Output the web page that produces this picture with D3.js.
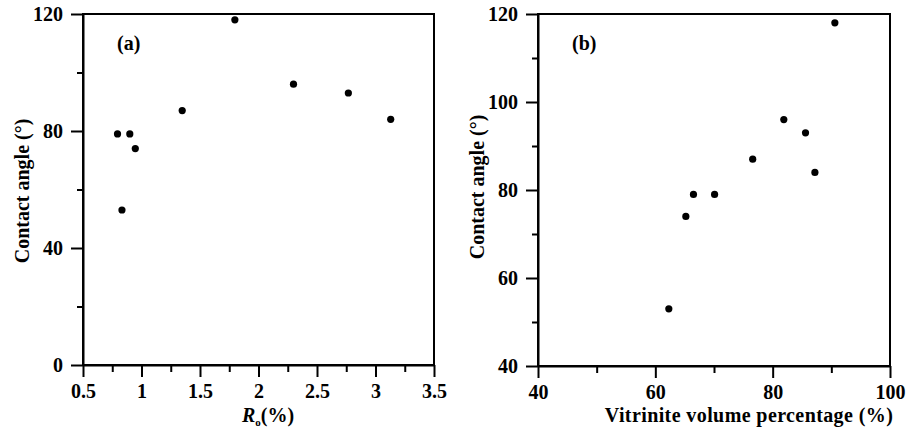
<!DOCTYPE html>
<html>
<head>
<meta charset="utf-8">
<script src="https://cdn.jsdelivr.net/npm/d3@7"></script>
<style>
  body { margin: 0; background: #fff; }
  svg { display: block; }
  text { font-family: "Liberation Serif", "Times New Roman", serif; font-weight: bold; fill: #000; }
</style>
</head>
<body>
<div id="chart"></div>
<script>
const width = 917;
const height = 435;

// panel (a): Ro vs contact angle
const roValues = [0.795, 0.90, 0.947, 0.833, 1.348, 1.798, 2.299, 2.768, 3.13];
const angleA = [79, 79, 74, 53, 87, 118, 96, 93, 84];
const roTicks = [0.5, 1, 1.5, 2, 2.5, 3, 3.5];
const roMinor = [0.75, 1.25, 1.75, 2.25, 2.75, 3.25];
const angleTicksA = [0, 40, 80, 120];
const angleMinorA = [20, 60, 100];

// panel (b): vitrinite vs contact angle
const vitrinite = [90.6, 81.9, 85.6, 76.6, 87.2, 66.5, 70.1, 65.2, 62.3];
const angleB = [118, 96, 93, 87, 84, 79, 79, 74, 53];
const vitTicks = [40, 60, 80, 100];
const vitMinor = [50, 70, 90];
const angleTicksB = [40, 60, 80, 100, 120];
const angleMinorB = [50, 70, 90, 110];

const svg = d3
  .select('#chart')
  .append('svg')
  .attr('width', width)
  .attr('height', height);

function drawPanel(opts) {
  const x = d3.scaleLinear().domain(opts.xDomain).range([opts.left, opts.right]);
  const y = d3.scaleLinear().domain(opts.yDomain).range([opts.bottom, opts.top]);

  // frame (top and right sides)
  svg.append('rect')
    .attr('x', opts.left)
    .attr('y', opts.top)
    .attr('width', opts.right - opts.left)
    .attr('height', opts.bottom - opts.top)
    .attr('fill', 'none')
    .attr('stroke', '#000')
    .attr('stroke-width', 2);

  // minor ticks
  svg.append('g')
    .attr('transform', `translate(0,${opts.bottom})`)
    .call(d3.axisBottom(x).tickValues(opts.xMinor).tickSize(7).tickSizeOuter(0).tickFormat(''))
    .call(g => g.select('.domain').remove())
    .selectAll('line').attr('stroke-width', 2);
  svg.append('g')
    .attr('transform', `translate(${opts.left},0)`)
    .call(d3.axisLeft(y).tickValues(opts.yMinor).tickSize(6).tickSizeOuter(0).tickFormat(''))
    .call(g => g.select('.domain').remove())
    .selectAll('line').attr('stroke-width', 2);

  // major axes
  const xAxis = svg.append('g')
    .attr('transform', `translate(0,${opts.bottom})`)
    .call(d3.axisBottom(x).tickValues(opts.xTicks).tickSize(12).tickPadding(7).tickSizeOuter(0).tickFormat(d => d));
  const yAxis = svg.append('g')
    .attr('transform', `translate(${opts.left},0)`)
    .call(d3.axisLeft(y).tickValues(opts.yTicks).tickSize(12).tickPadding(8).tickSizeOuter(0).tickFormat(d => d));

  [xAxis, yAxis].forEach(g => {
    g.select('.domain').attr('stroke-width', 2);
    g.selectAll('line').attr('stroke-width', 2);
    g.selectAll('text')
      .attr('font-size', 20)
      .attr('font-family', '"Liberation Serif", "Times New Roman", serif')
      .attr('font-weight', 'bold');
  });

  // points
  svg.append('g')
    .selectAll('circle')
    .data(opts.xs.map((v, i) => [v, opts.ys[i]]))
    .enter()
    .append('circle')
    .attr('cx', d => x(d[0]))
    .attr('cy', d => y(d[1]))
    .attr('r', 3.6)
    .attr('fill', '#000');

  // panel letter
  svg.append('text')
    .attr('x', opts.left + 34)
    .attr('y', opts.top + 36)
    .attr('font-size', 20)
    .text(opts.letter);

  // y title
  svg.append('text')
    .attr('transform', `translate(${opts.yTitleX},${opts.yTitleY}) rotate(-90)`)
    .attr('text-anchor', 'middle')
    .attr('font-size', 20)
    .text('Contact angle (°)');

  return { x, y };
}

drawPanel({
  left: 83, right: 434, top: 14, bottom: 365,
  xDomain: [0.5, 3.5], yDomain: [0, 120],
  xTicks: roTicks, xMinor: roMinor,
  yTicks: angleTicksA, yMinor: angleMinorA,
  xs: roValues, ys: angleA,
  letter: '(a)', yTitleX: 29, yTitleY: 191
});

drawPanel({
  left: 538, right: 890, top: 14, bottom: 366,
  xDomain: [40, 100], yDomain: [40, 120],
  xTicks: vitTicks, xMinor: vitMinor,
  yTicks: angleTicksB, yMinor: angleMinorB,
  xs: vitrinite, ys: angleB,
  letter: '(b)', yTitleX: 484, yTitleY: 187
});

// x title (a): R_o(%)
const titleA = svg.append('text')
  .attr('x', 268)
  .attr('y', 422)
  .attr('text-anchor', 'middle')
  .attr('font-size', 20);
titleA.append('tspan').attr('font-style', 'italic').text('R');
titleA.append('tspan').attr('font-size', 11).attr('dy', 4).text('o');
titleA.append('tspan').attr('dy', -4).text('(%)');

// x title (b)
svg.append('text')
  .attr('x', 749)
  .attr('y', 422)
  .attr('text-anchor', 'middle')
  .attr('font-size', 20)
  .attr('letter-spacing', 0.4)
  .text('Vitrinite volume percentage (%)');
</script>
</body>
</html>
